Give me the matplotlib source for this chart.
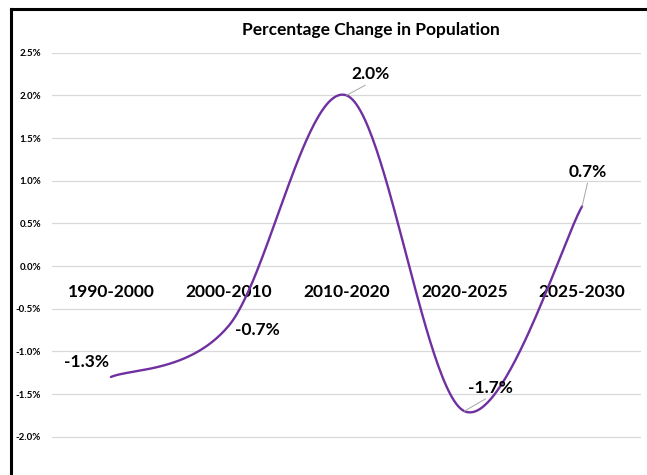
import numpy as np
import matplotlib
matplotlib.use("Agg")
import matplotlib.pyplot as plt
from matplotlib.lines import Line2D
from matplotlib.ticker import FuncFormatter

plt.rcParams['font.family'] = ['Lato', 'DejaVu Sans']

# data
periods = ["1990-2000", "2000-2010", "2010-2020", "2020-2025", "2025-2030"]
change = [-1.3, -0.7, 2.0, -1.7, 0.7]
labels = ["-1.3%", "-0.7%", "2.0%", "-1.7%", "0.7%"]

# label offsets in pixels (dx, dy) and whether a leader line is drawn
offsets = [(-24, 15), (29, -4), (24, 21), (26, 23), (6, 34)]
leaders = [False, False, True, True, True]


def smooth(x, y, steps=60):
    # Excel-style smoothed line (bezier through the points)
    pts = np.column_stack([x, y]).astype(float)
    n = len(pts)
    out = []
    t = np.linspace(0, 1, steps)[:, None]
    for i in range(n - 1):
        p0, p3 = pts[i], pts[i + 1]
        prev = pts[i - 1] if i > 0 else pts[i]
        nxt = pts[i + 2] if i + 2 < n else pts[i + 1]
        c1 = p0 + (p3 - prev) / 6
        c2 = p3 - (nxt - p0) / 6
        seg = ((1 - t) ** 3) * p0 + 3 * ((1 - t) ** 2) * t * c1 + 3 * (1 - t) * t ** 2 * c2 + t ** 3 * p3
        out.append(seg if i == 0 else seg[1:])
    out = np.vstack(out)
    return out[:, 0], out[:, 1]


fig = plt.figure(figsize=(6.47, 4.75), dpi=100)
ax = fig.add_axes([52 / 647, 1 - 479.4 / 475, 589 / 647, 426.7 / 475])

xs = np.arange(len(periods))
sx, sy = smooth(xs, change)
ax.plot(sx, sy, color="#7030A0", lw=1.7, solid_capstyle="round", zorder=3)

ax.set_xlim(-0.5, 4.5)
ax.set_ylim(-2.5, 2.5)
ax.set_yticks(np.arange(-2.0, 2.51, 0.5))
ax.yaxis.set_major_formatter(FuncFormatter(lambda v, p: f"{v:.1f}%"))
ax.grid(axis="y", color="#D9D9D9", lw=0.9)
ax.set_axisbelow(True)

ax.set_xticks(xs, periods)
ax.spines["bottom"].set_position(("data", 0))
for s in ["top", "right", "left", "bottom"]:
    ax.spines[s].set_visible(False)
ax.tick_params(axis="x", length=0, pad=13, labelsize=12.5)
for t in ax.get_xticklabels():
    t.set_fontweight("bold")
ax.tick_params(axis="y", length=0, pad=8, labelsize=7)
for t in ax.get_yticklabels():
    t.set_fontweight("bold")

for i, (lab, (dx, dy), ld) in enumerate(zip(labels, offsets, leaders)):
    arrow = dict(arrowstyle="-", color="#A6A6A6", lw=0.7, relpos=(0.5, 0), shrinkA=0, shrinkB=0) if ld else None
    ax.annotate(lab, xy=(xs[i], change[i]), xytext=(dx, dy), textcoords="offset pixels",
                ha="center", va="center", fontsize=12.5, fontweight="bold",
                arrowprops=arrow, zorder=4)

fig.text(371 / 647, 1 - 30 / 475, "Percentage Change in Population",
         ha="center", va="center", fontsize=12.5, fontweight="bold")

# chart frame (bottom is cut off in the screenshot)
fig.add_artist(Line2D([11 / 647, 11 / 647], [0, 1 - 9 / 475], transform=fig.transFigure, color="black", lw=2.2))
fig.add_artist(Line2D([11 / 647, 1], [1 - 9 / 475, 1 - 9 / 475], transform=fig.transFigure, color="black", lw=2.2))

fig.savefig("out.png", dpi=100)
